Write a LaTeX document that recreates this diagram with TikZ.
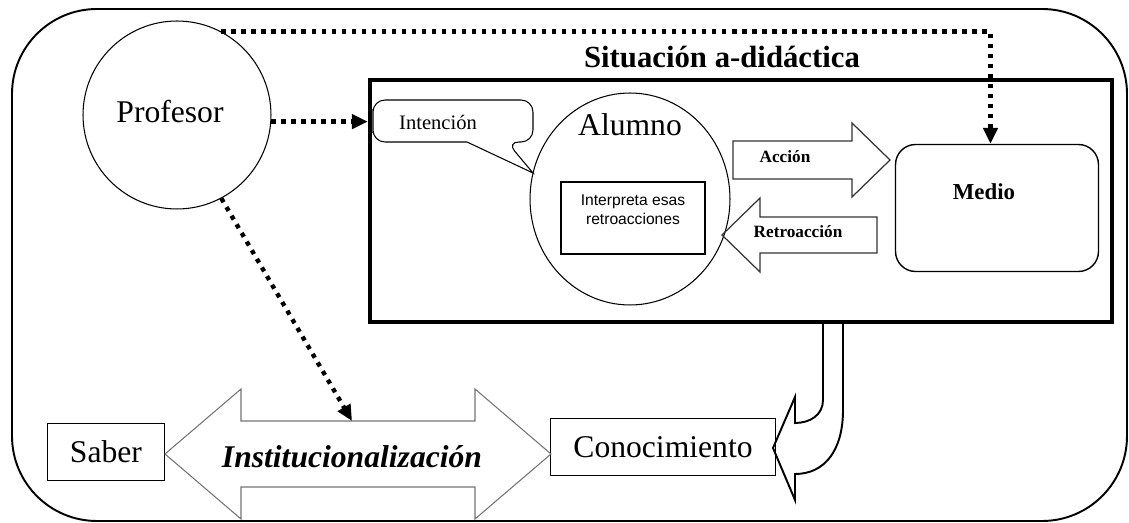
\documentclass[tikz,border=0pt]{standalone}
\usepackage{fontspec}
\setmainfont{Liberation Serif}
\setsansfont{Liberation Sans}
\usetikzlibrary{arrows.meta, calc, positioning, shapes.geometric}

\begin{document}
\begin{tikzpicture}[x=0.02cm, y=-0.02cm,
  thinline/.style={draw, line width=0.6pt},
  dotarrow/.style={line width=2.5pt, dash pattern=on 2.5pt off 3.2pt, -{Triangle[length=9pt,width=8pt]}},
  blockarrow/.style={draw=black!80, line width=0.7pt, line join=miter},
  bigtext/.style={font=\fontsize{18}{21}\selectfont}]
\useasboundingbox (0,0) rectangle (1129,523);
% frame
\draw[line width=1.1pt, rounded corners=1.7cm] (12,9) rectangle (1127,521);
% situacion a-didactica
\node[draw, line width=2.6pt, minimum width=14.84cm, minimum height=4.84cm] (sit) at (741,201) {};
\node[font=\bfseries\fontsize{17.5}{20}\selectfont] (titulo) at (722,57) {Situación a-didáctica};
% profesor
\node[thinline, circle, minimum size=3.76cm, bigtext] (profesor) at (177,115) {};
\node[bigtext] (proftxt) at (170,112) {Profesor};
% intencion (callout)
\draw[thinline, rounded corners=0.24cm] (373,121) -- (373,100) -- (533,100) -- (533,142) -- (507,142) [sharp corners] -- (533,173) -- (467,142) [rounded corners=0.24cm] -- (373,142) -- cycle;
\node[font=\fontsize{11.7}{14}\selectfont] (intencion) at (438,122) {Intención};
% alumno
\node[thinline, ellipse, minimum width=4cm, minimum height=4.24cm] (alumno) at (630,199) {};
\node[bigtext] (alumtxt) at (630,125) {Alumno};
\node[thinline, minimum width=2.88cm, minimum height=1.44cm] (interp) at (633,218) {};
\node[font=\sffamily\fontsize{8.9}{10.8}\selectfont, align=center] (interptxt) at (633,210) {Interpreta esas\\retroacciones};
% medio
\node[draw, line width=0.8pt, rounded corners=0.4cm, minimum width=4.06cm, minimum height=2.54cm] (medio) at (997,208) {};
\node[font=\bfseries\fontsize{13}{15}\selectfont] (medtxt) at (984,192) {Medio};
% accion / retroaccion
\draw[blockarrow] (733,141) -- (852,141) -- (852,123) -- (890,160) -- (852,197) -- (852,179) -- (733,179) -- cycle;
\node[font=\bfseries\fontsize{9.8}{12}\selectfont] (accion) at (785,157) {Acción};
\draw[blockarrow] (877,217) -- (760,217) -- (760,198) -- (722,235) -- (760,272) -- (760,253) -- (877,253) -- cycle;
\node[font=\bfseries\fontsize{9.8}{12}\selectfont] (retro) at (798,232) {Retroacción};
% saber, conocimiento
\node[thinline, minimum width=2.34cm, minimum height=1.14cm, bigtext] (saber) at (106,452) {Saber};
\node[thinline, minimum width=4.5cm, minimum height=1.14cm, bigtext] (conoc) at (663,447) {Conocimiento};
% institucionalizacion
\draw[draw=black!55, line width=0.6pt] (165,454) -- (241,389) -- (241,421) -- (475,421) -- (475,389) -- (551,454) -- (475,519) -- (475,487) -- (241,487) -- (241,519) -- cycle;
\node[font=\bfseries\itshape\fontsize{18}{21}\selectfont] (inst) at (352,457) {Institucionalización};
\coordinate (insttop) at (352,421);
% U arrow to conocimiento
\draw[line width=1.1pt, line join=miter] (823,322) -- (823,400) .. controls (823,415) and (810,423) .. (795,423) -- (795,397) -- (773,448) -- (795,500) -- (795,474) .. controls (825,474) and (843,450) .. (843,410) -- (843,322);
% dotted arrows
\draw[dotarrow] (profesor.62) -| ([xshift=-0.13cm]medio.north);
\draw[dotarrow] (profesor.-4) -- (profesor.-4 -| sit.west);
\draw[dotarrow] (profesor.-62) -- (insttop);
\end{tikzpicture}
\end{document}
